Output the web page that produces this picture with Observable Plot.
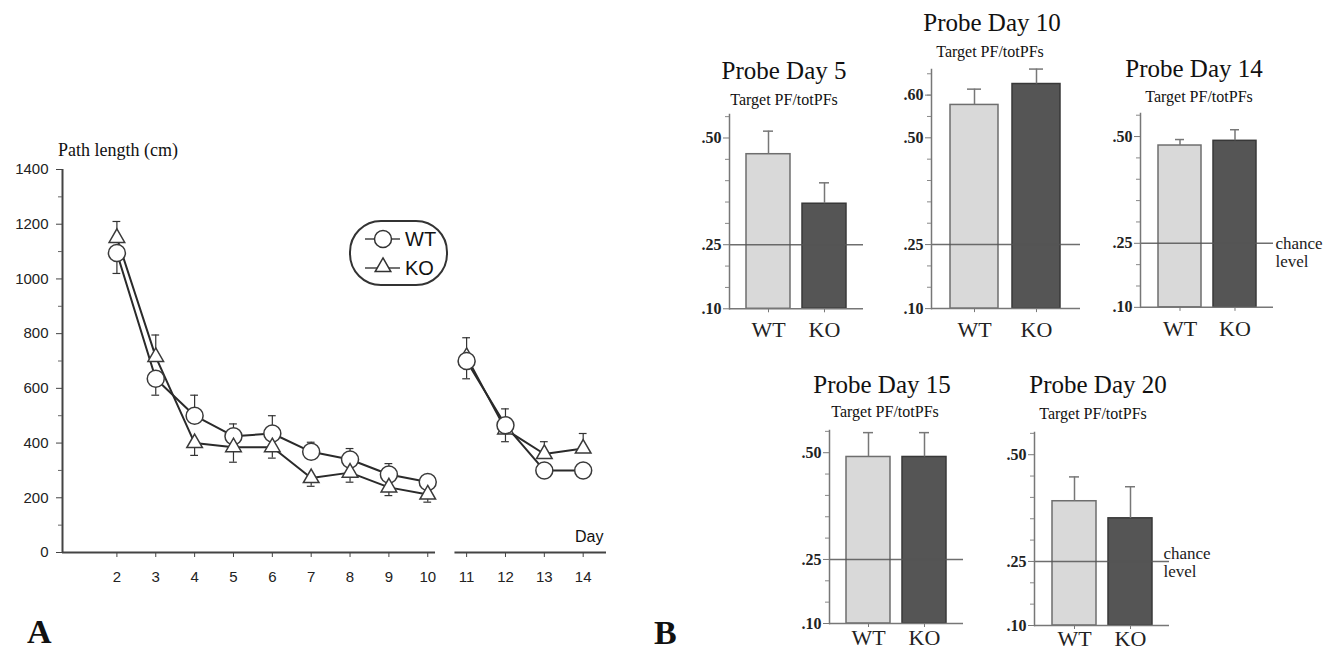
<!DOCTYPE html>
<html><head><meta charset="utf-8">
<script src="https://cdn.jsdelivr.net/npm/d3@7"></script>
<script src="https://cdn.jsdelivr.net/npm/@observablehq/plot@0.6"></script>
<style>
html,body{margin:0;padding:0;background:#fff}
body{width:1337px;height:655px;overflow:hidden;position:relative}
.abs{position:absolute}
</style></head><body>
<script>
// ---------- Panel A data ----------
const days = [2,3,4,5,6,7,8,9,10,11,12,13,14];
const wtPath = [1095,635,500,425,435,368,340,285,258,700,465,300,300];
const koPath = [1150,715,400,385,385,272,292,238,212,715,450,360,380];
const wtSem  = [75,60,75,45,65,35,40,40,20,65,60,15,15];
const koSem  = [60,80,45,55,40,30,35,30,28,70,45,45,55];
const yTicksA = [0,200,400,600,800,1000,1200,1400];
const yMinorA = [100,300,500,700,900,1100,1300];
const seriesNames = ["WT","KO"];

// ---------- Panel B data ----------
const groups = ["WT","KO"];
const probeDays = [5,10,14,15,20];
const probeWT    = [0.462,0.577,0.479,0.490,0.391];
const probeKO    = [0.346,0.626,0.490,0.490,0.351];
const probeWTsem = [0.054,0.037,0.014,0.057,0.057];
const probeKOsem = [0.049,0.035,0.026,0.057,0.074];
const chance = 0.25;
const probeTickValues = [0.10,0.25,0.50,0.60];
const probeTickLabels = [".10",".25",".50",".60"];
const probeMinor = [0.15,0.20,0.30,0.35,0.40,0.45,0.55,0.60,0.65];

const SERIF = "'Liberation Serif','Times New Roman',serif";
const SANS = "'Liberation Sans',Arial,Helvetica,sans-serif";

function place(el, left, top) {
  el.classList.add("abs");
  el.style.left = left + "px";
  el.style.top = top + "px";
  document.body.appendChild(el);
}

// ---------- Panel A ----------
const rowsA = [];
days.forEach((d, i) => {
  const seg = d <= 10 ? "a" : "b";
  const wtUp = wtPath[i] >= koPath[i];
  rowsA.push({day: d, series: "WT", v: wtPath[i], e: wtSem[i], dir: wtUp ? 1 : -1, seg});
  rowsA.push({day: d, series: "KO", v: koPath[i], e: koSem[i], dir: wtUp ? -1 : 1, seg});
});
const ink = "#2a2a2a";
const dotStyle = {fill: "white", stroke: "#3a3a3a", strokeWidth: 1.5};
const koRows = rowsA.filter(d => d.series === "KO");
const koUnder = koRows.filter(d => d.day === 2 || d.seg === "b");
const koOver = koRows.filter(d => !(d.day === 2 || d.seg === "b"));
const pA = Plot.plot({
  width: 620, height: 460,
  marginLeft: 62, marginRight: 14, marginTop: 29, marginBottom: 48,
  x: {domain: [0.6, 14.6], label: null},
  y: {domain: [0, 1400], label: null},
  style: {fontFamily: SANS, fontSize: "15px", color: "#222", background: "transparent", overflow: "visible"},
  marks: [
    Plot.ruleX([0.6], {y1: 0, y2: 1400, stroke: "#444", strokeWidth: 2}),
    Plot.ruleY([0], {x1: 0.6, x2: 10.2, stroke: "#444", strokeWidth: 2}),
    Plot.ruleY([0], {x1: 10.7, x2: 14.6, stroke: "#444", strokeWidth: 2}),
    Plot.axisY({ticks: yTicksA, tickFormat: d => String(d), tickSize: 6, tickPadding: 8, label: null, stroke: "#444", fontSize: 15}),
    Plot.axisY({ticks: yMinorA, tickSize: 4, tickFormat: () => "", label: null, stroke: "#666"}),
    Plot.axisX({ticks: days, tickFormat: d => String(d), tickSize: 5, tickPadding: 14, label: null, stroke: "#444", fontSize: 15}),
    Plot.line(rowsA, {x: "day", y: "v", z: d => d.series + d.seg, stroke: ink, strokeWidth: 2}),
    Plot.ruleX(rowsA, {x: "day", y1: "v", y2: d => d.v + d.dir * d.e, stroke: "#333", strokeWidth: 1.2}),
    Plot.ruleY(rowsA, {y: d => d.v + d.dir * d.e, x1: d => d.day - 0.1, x2: d => d.day + 0.1, stroke: "#333", strokeWidth: 1.2}),
    Plot.dot(koUnder, {x: "day", y: "v", r: 5.8, symbol: "triangle", ...dotStyle}),
    Plot.dot(rowsA.filter(d => d.series === "WT"), {x: "day", y: "v", r: 8.5, ...dotStyle}),
    Plot.dot(koOver, {x: "day", y: "v", r: 5.8, symbol: "triangle", ...dotStyle})
  ]
});
place(pA, 0, 140);

// ---------- Panel B ----------
const K = 427; // px per unit on probe panels
const layoutB = [
  {axisX: 729,  right: 863,  base: 308, yMax: 0.555, tx: 784,  ty: 79,  sx: 784,  sy: 105, pad: 9},
  {axisX: 931,  right: 1080, base: 308, yMax: 0.660, tx: 992,  ty: 31,  sx: 990,  sy: 57,  pad: 9},
  {axisX: 1140, right: 1273, base: 307, yMax: 0.554, tx: 1194, ty: 77,  sx: 1199, sy: 102, pad: 9, cdx: 2,  cdy: -8},
  {axisX: 829,  right: 963,  base: 623, yMax: 0.552, tx: 882,  ty: 393, sx: 885,  sy: 417, pad: 2},
  {axisX: 1034, right: 1169, base: 625, yMax: 0.552, tx: 1098, ty: 393, sx: 1093, sy: 419, pad: 1, cdx: -6, cdy: -16}
];

probeDays.forEach((day, i) => {
  const L = layoutB[i];
  const rows = groups.map((g, j) => ({group: g, v: j ? probeKO[i] : probeWT[i], e: j ? probeKOsem[i] : probeWTsem[i]}));
  const majors = probeTickValues.filter(t => t <= L.yMax + 1e-9);
  const minors = probeMinor.filter(t => t <= L.yMax + 1e-9);
  const ml = 45, mt = 10, mb = 34, mr = L.cdx !== undefined ? 70 : 12;
  const plotH = (L.yMax - 0.10) * K;
  const marks = [
    Plot.barY(rows, {x: "group", y1: 0.10, y2: "v", fill: "group", stroke: d => d.group === "WT" ? "#6e6e6e" : "#383838", strokeWidth: 1.5}),
    Plot.ruleX(rows, {x: "group", y1: "v", y2: d => d.v + d.e, stroke: "#777", strokeWidth: 1.5}),
    Plot.tickY(rows, {x: "group", y: d => d.v + d.e, stroke: "#777", strokeWidth: 1.5, insetLeft: 17, insetRight: 17}),
    Plot.ruleY([chance], {stroke: "#555", strokeWidth: 1.5, strokeOpacity: 0.85}),
    Plot.ruleY([0.10], {stroke: "#777", strokeWidth: 1.5}),
    Plot.frame({anchor: "left", stroke: "#777", strokeWidth: 1.5}),
    Plot.axisY({ticks: majors, tickFormat: d => probeTickLabels[probeTickValues.indexOf(d)], tickSize: 6, tickPadding: 2, label: null, stroke: "#777", fontSize: 16, fontWeight: "bold"}),
    Plot.axisY({ticks: minors, tickFormat: () => "", tickSize: 4, label: null, stroke: "#888"}),
    Plot.axisX({tickSize: 4, tickPadding: L.pad, label: null, stroke: "#777", fontSize: 22})
  ];
  if (L.cdx !== undefined) {
    marks.push(Plot.text([chance], {y: d => d, text: () => "chance\nlevel", frameAnchor: "right", textAnchor: "start", lineAnchor: "top", dx: L.cdx, dy: L.cdy, fontSize: 17, lineHeight: 1.1, fill: "#222"}));
  }
  const svg = Plot.plot({
    width: ml + (L.right - L.axisX) + mr, height: mt + plotH + mb,
    marginLeft: ml, marginRight: mr, marginTop: mt, marginBottom: mb,
    x: {domain: groups, paddingInner: 0.22, paddingOuter: 0.3, label: null},
    y: {domain: [0.10, L.yMax], label: null},
    color: {domain: groups, range: ["#d9d9d9", "#555555"]},
    style: {fontFamily: SERIF, color: "#222", background: "transparent", overflow: "visible"},
    marks
  });
  place(svg, L.axisX - ml, L.base - plotH - mt);
});

// ---------- Overlay text & legend ----------
const NS = "http://www.w3.org/2000/svg";
const ov = document.createElementNS(NS, "svg");
ov.setAttribute("width", 1337); ov.setAttribute("height", 655);
ov.style.pointerEvents = "none";
function txt(s, x, y, size, family, anchor = "start", weight = "normal") {
  const t = document.createElementNS(NS, "text");
  t.setAttribute("x", x); t.setAttribute("y", y);
  t.setAttribute("font-size", size); t.setAttribute("font-family", family);
  t.setAttribute("text-anchor", anchor); t.setAttribute("font-weight", weight);
  t.setAttribute("fill", "#111");
  t.textContent = s;
  ov.appendChild(t);
}
function el(tag, attrs) {
  const e = document.createElementNS(NS, tag);
  for (const k in attrs) e.setAttribute(k, attrs[k]);
  ov.appendChild(e);
}
txt("Path length (cm)", 58, 156, 18, SERIF);
txt("Day", 575, 542, 16, SANS);
txt("A", 27, 643, 34, SERIF, "start", "bold");
txt("B", 654, 644, 34, SERIF, "start", "bold");
probeDays.forEach((d, i) => {
  const L = layoutB[i];
  txt("Probe Day " + d, L.tx, L.ty, 25, SERIF, "middle");
  txt("Target PF/totPFs", L.sx, L.sy, 16, SERIF, "middle");
});
// legend
el("rect", {x: 350, y: 221, width: 97, height: 64, rx: 31, ry: 31, fill: "white", stroke: "#333", "stroke-width": 2});
el("line", {x1: 365, y1: 239, x2: 400, y2: 239, stroke: "#444", "stroke-width": 1.5});
el("circle", {cx: 383, cy: 239, r: 8.5, fill: "white", stroke: "#333", "stroke-width": 1.5});
el("line", {x1: 365, y1: 268, x2: 400, y2: 268, stroke: "#444", "stroke-width": 1.5});
el("path", {d: d3.symbol(d3.symbolTriangle, Math.PI * 5.8 * 5.8)(), transform: "translate(383,267)", fill: "white", stroke: "#333", "stroke-width": 1.5});
txt(seriesNames[0], 405, 246, 20, SANS);
txt(seriesNames[1], 405, 275, 20, SANS);
place(ov, 0, 0);
</script>
</body></html>
